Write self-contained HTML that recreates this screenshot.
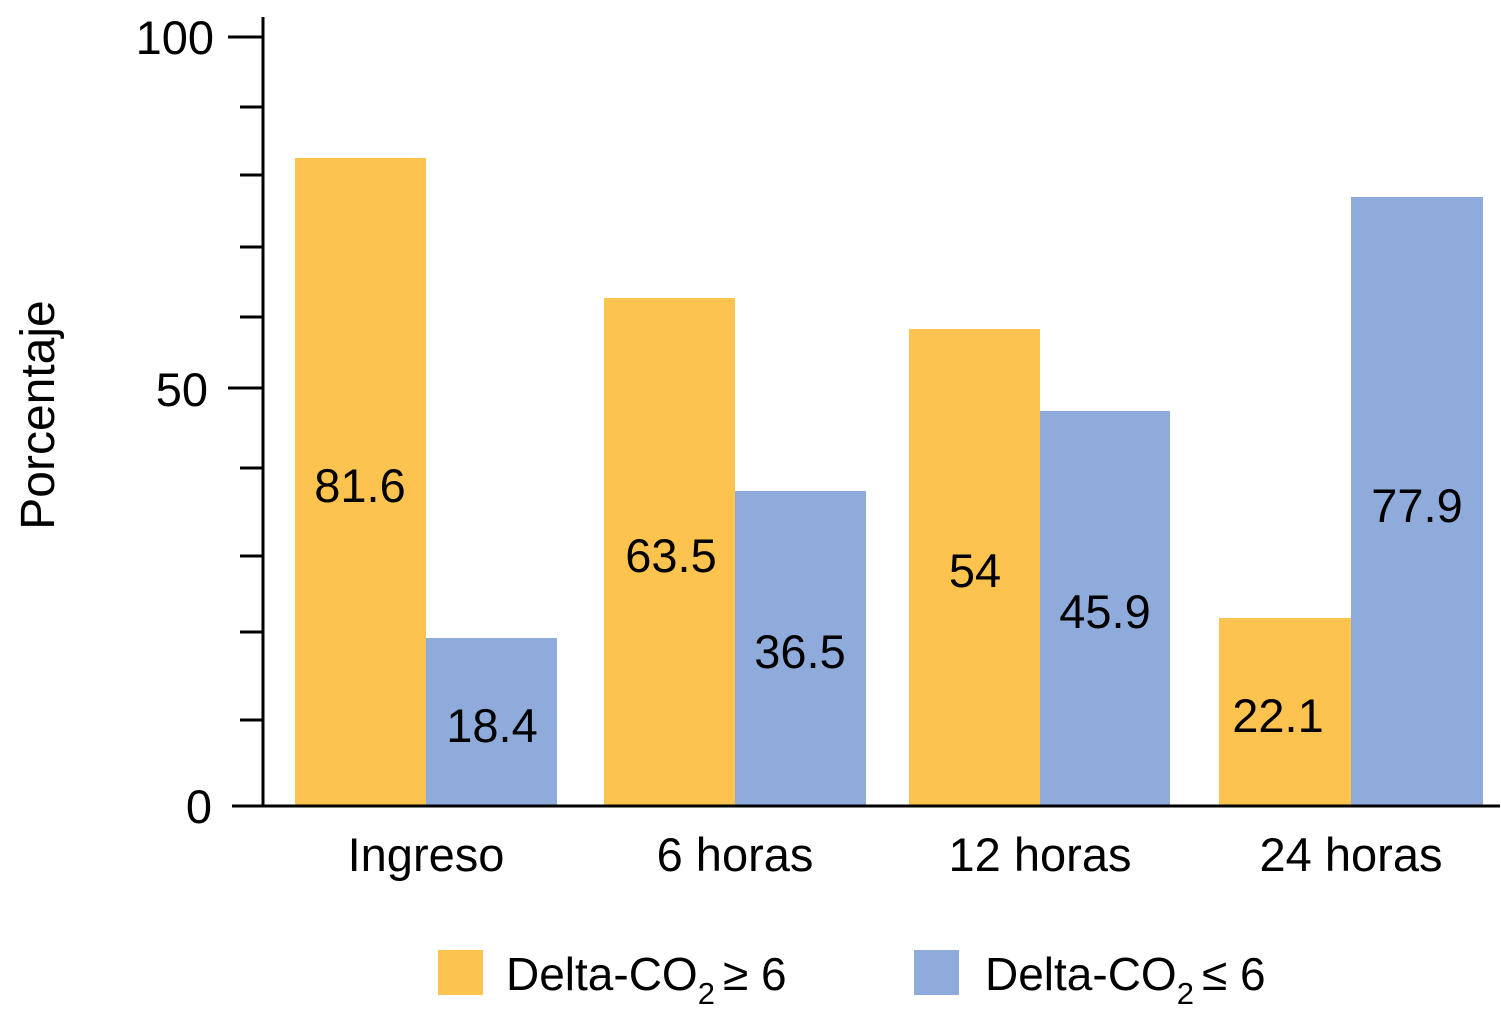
<!DOCTYPE html>
<html><head><meta charset="utf-8"><style>body{margin:0;background:#fff}svg{display:block}</style></head><body>
<svg width="1501" height="1024" xmlns="http://www.w3.org/2000/svg" font-family="Liberation Sans, sans-serif">
<g fill="#FDC34F">
<rect x="295" y="158" width="131" height="648"/>
<rect x="604" y="298" width="131" height="508"/>
<rect x="909" y="329" width="131" height="477"/>
<rect x="1219" y="618" width="132" height="188"/>
</g>
<g fill="#8FABDB">
<rect x="426" y="638" width="131" height="168"/>
<rect x="735" y="491" width="131" height="315"/>
<rect x="1040" y="411" width="130" height="395"/>
<rect x="1351" y="197" width="132" height="609"/>
</g>
<g stroke="#000" stroke-width="3">
<line x1="263" y1="17" x2="263" y2="807"/>
<line x1="232" y1="806" x2="1500" y2="806"/>
<line x1="228" y1="37" x2="263" y2="37"/>
<line x1="228" y1="388" x2="263" y2="388"/>
<line x1="240" y1="107" x2="263" y2="107"/>
<line x1="240" y1="175" x2="263" y2="175"/>
<line x1="240" y1="247" x2="263" y2="247"/>
<line x1="240" y1="317" x2="263" y2="317"/>
<line x1="240" y1="468" x2="263" y2="468"/>
<line x1="240" y1="556" x2="263" y2="556"/>
<line x1="240" y1="632" x2="263" y2="632"/>
<line x1="240" y1="720" x2="263" y2="720"/>
</g>
<g font-size="47" text-anchor="end">
<text x="214" y="54">100</text>
<text x="208" y="406">50</text>
<text x="212" y="823">0</text>
</g>
<text transform="translate(54,415) rotate(-90)" font-size="48" text-anchor="middle">Porcentaje</text>
<g font-size="47" text-anchor="middle">
<text x="426" y="871">Ingreso</text>
<text x="735" y="871">6 horas</text>
<text x="1040" y="871">12 horas</text>
<text x="1351" y="871">24 horas</text>
<text x="360" y="502">81.6</text>
<text x="492" y="742">18.4</text>
<text x="671" y="572">63.5</text>
<text x="800" y="668">36.5</text>
<text x="975" y="587">54</text>
<text x="1105" y="628">45.9</text>
<text x="1278" y="732">22.1</text>
<text x="1417" y="522">77.9</text>
</g>
<rect x="438" y="950" width="45" height="45" fill="#FDC34F"/>
<rect x="914" y="950" width="45" height="45" fill="#8FABDB"/>
<g font-size="46">
<text x="506" y="990">Delta-CO<tspan font-size="31" dy="14">2</tspan><tspan dy="-14" dx="8">≥ 6</tspan></text>
<text x="985" y="990">Delta-CO<tspan font-size="31" dy="14">2</tspan><tspan dy="-14" dx="8">≤ 6</tspan></text>
</g>
</svg>
</body></html>
